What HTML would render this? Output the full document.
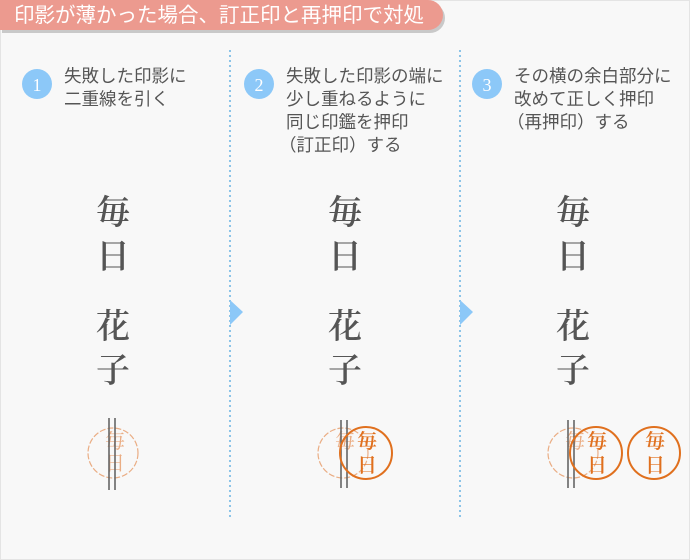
<!DOCTYPE html>
<html><head><meta charset="utf-8"><style>
html,body{margin:0;padding:0;}
body{width:690px;height:560px;background:#f8f8f8;overflow:hidden;}
</style></head><body>
<svg width="690" height="560" xmlns="http://www.w3.org/2000/svg" style="display:block">
<rect x="0.5" y="0.5" width="689" height="559" fill="#f8f8f8" stroke="#e4e4e4"/>
<path d="M0 2 H428 A15 15 0 0 1 428 32 H0 Z" fill="#c9c9c9" transform="translate(2,1)"/>
<path d="M0 0 H428 A15 15 0 0 1 428 30 H0 Z" fill="#ec9a8f"/>
<text x="14" y="22" font-family="Liberation Sans, Noto Sans CJK JP, sans-serif" font-size="20.5" fill="#fff" textLength="410" lengthAdjust="spacingAndGlyphs">印影が薄かった場合、訂正印と再押印で対処</text>
<line x1="230" y1="50" x2="230" y2="520" stroke="#8cc4e8" stroke-width="2" stroke-dasharray="2,3"/>
<line x1="460" y1="50" x2="460" y2="520" stroke="#8cc4e8" stroke-width="2" stroke-dasharray="2,3"/>
<polygon points="230,300 243,312 230,325" fill="#8cc8f8"/>
<polygon points="460,300 473,312 460,325" fill="#8cc8f8"/>
<g font-family="Liberation Sans, Noto Sans CJK JP, sans-serif" font-size="17.5" fill="#555">
<circle cx="37" cy="84" r="15" fill="#8cc8f8"/>
<text x="37" y="91" fill="#fff" text-anchor="middle" font-family="Liberation Serif, serif" font-size="18">1</text>
<text x="64" y="82">失敗した印影に</text>
<text x="64" y="105">二重線を引く</text>
<circle cx="259" cy="84" r="15" fill="#8cc8f8"/>
<text x="259" y="91" fill="#fff" text-anchor="middle" font-family="Liberation Serif, serif" font-size="18">2</text>
<text x="286" y="82">失敗した印影の端に</text>
<text x="286" y="105">少し重ねるように</text>
<text x="286" y="128">同じ印鑑を押印</text>
<text x="279" y="151">（訂正印）する</text>
<circle cx="487" cy="84" r="15" fill="#8cc8f8"/>
<text x="487" y="91" fill="#fff" text-anchor="middle" font-family="Liberation Serif, serif" font-size="18">3</text>
<text x="514" y="82">その横の余白部分に</text>
<text x="514" y="105">改めて正しく押印</text>
<text x="507" y="128">（再押印）する</text>
</g>
<g font-family="Noto Serif CJK SC, serif" font-size="34" font-weight="600" fill="#555" text-anchor="middle">
<text x="113" y="224">毎</text><text x="113" y="268">日</text><text x="113" y="338">花</text><text x="113" y="382">子</text>
<text x="345" y="224">毎</text><text x="345" y="268">日</text><text x="345" y="338">花</text><text x="345" y="382">子</text>
<text x="573" y="224">毎</text><text x="573" y="268">日</text><text x="573" y="338">花</text><text x="573" y="382">子</text>
</g>
<g fill="none" stroke="#e8a070" stroke-width="1.2" opacity="0.85">
<circle cx="113" cy="453" r="25" stroke-dasharray="6,2"/>
<circle cx="343" cy="453" r="25" stroke-dasharray="6,2"/>
<circle cx="573" cy="453" r="25" stroke-dasharray="6,2"/>
</g>
<g font-family="Noto Serif CJK SC, serif" font-size="20" fill="#e8a070" text-anchor="middle" opacity="0.85">
<text x="115" y="448">毎</text><text x="115" y="470">日</text>
<text x="345" y="448">毎</text>
<text x="575" y="448">毎</text>
</g>
<g stroke="#666" stroke-width="1.6">
<line x1="109" y1="418" x2="109" y2="490"/><line x1="115" y1="418" x2="115" y2="490"/>
<line x1="341" y1="420" x2="341" y2="488"/><line x1="347" y1="420" x2="347" y2="488"/>
<line x1="568" y1="420" x2="568" y2="488"/><line x1="574" y1="420" x2="574" y2="488"/>
</g>
<g fill="none" stroke="#e0701e" stroke-width="2">
<circle cx="366" cy="453" r="26"/>
<circle cx="596" cy="453" r="26"/>
<circle cx="654" cy="453" r="26"/>
</g>
<g font-family="Noto Serif CJK SC, serif" font-size="20" font-weight="600" fill="#e0701e" text-anchor="middle">
<text x="367" y="448">毎</text><text x="367" y="472">日</text>
<text x="597" y="448">毎</text><text x="597" y="472">日</text>
<text x="655" y="448">毎</text><text x="655" y="472">日</text>
</g>
</svg>
</body></html>
